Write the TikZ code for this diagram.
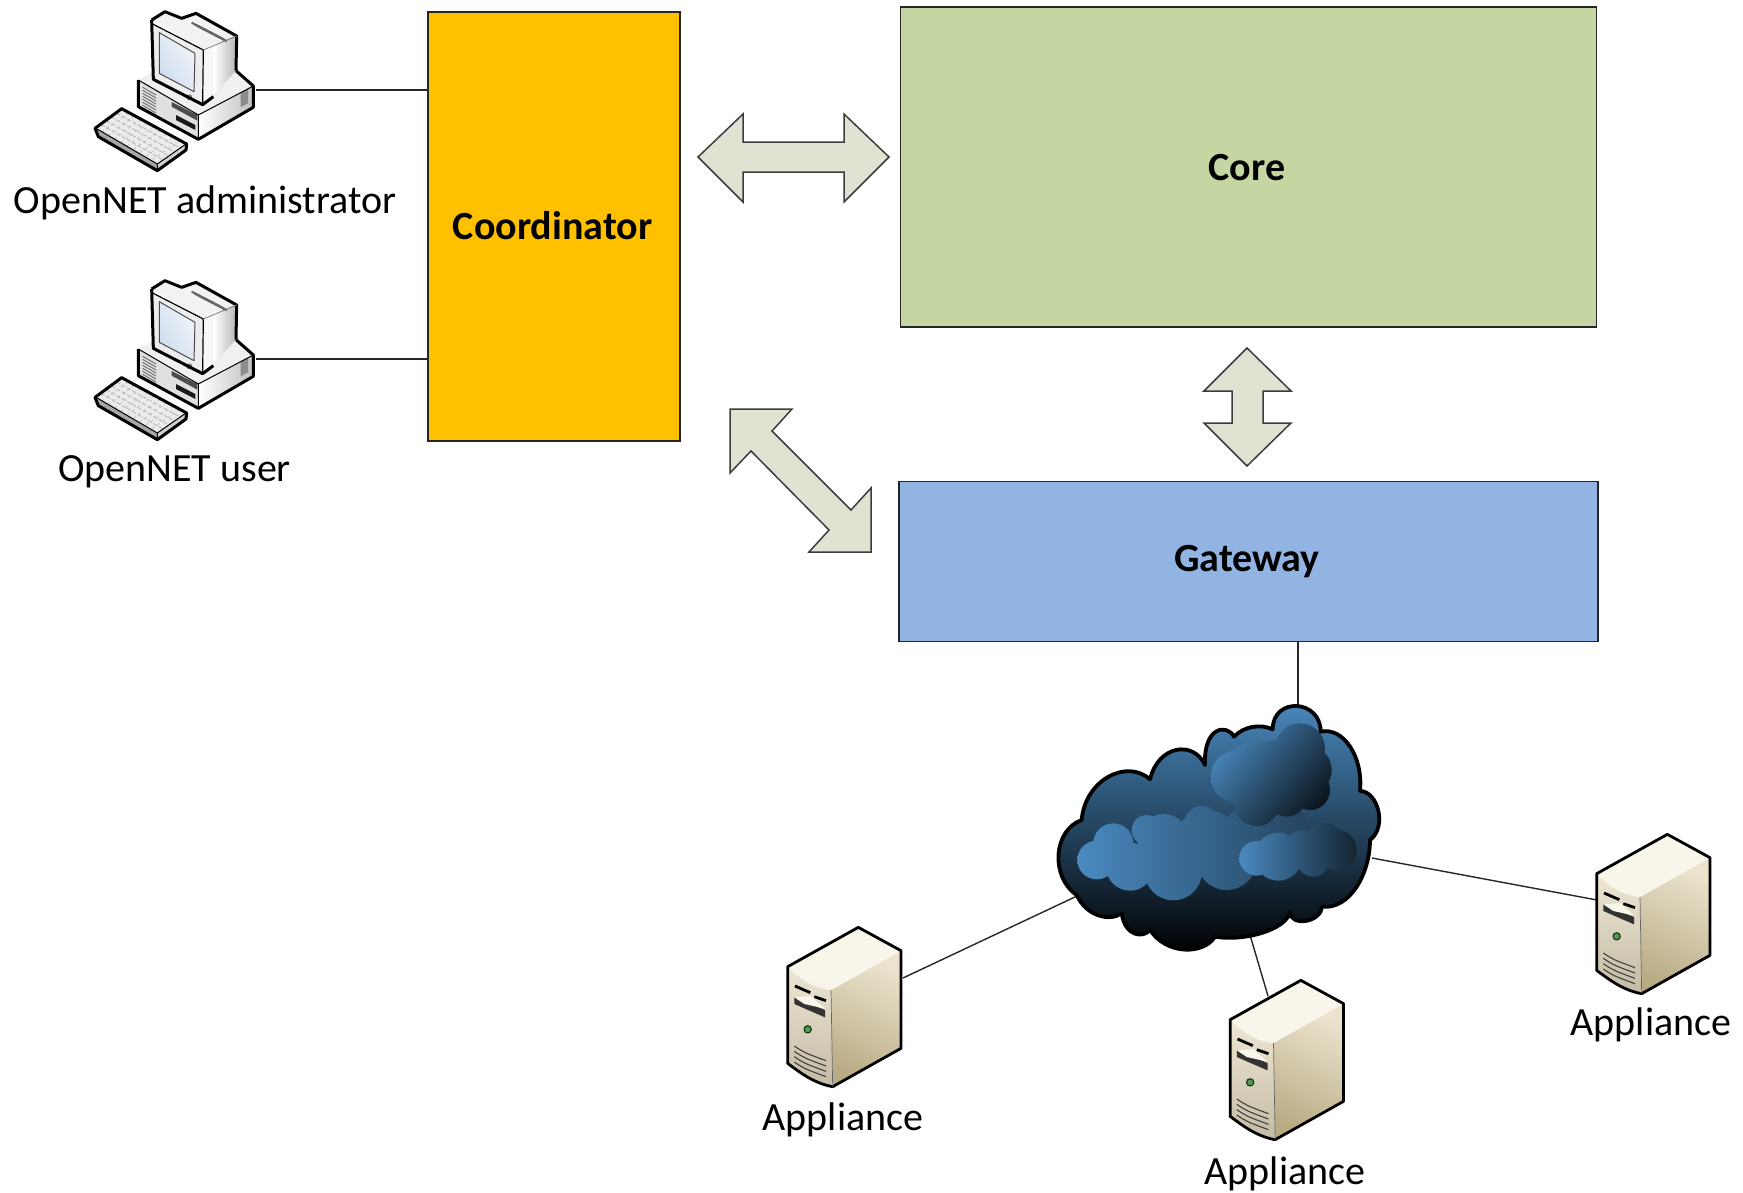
\documentclass[tikz,border=0pt]{standalone}
\usepackage{fontspec}
\setmainfont{Carlito}
\usetikzlibrary{calc}
\definecolor{coordc}{HTML}{FFC000}
\definecolor{corec}{HTML}{C5D6A2}
\definecolor{gatec}{HTML}{92B4E2}
\definecolor{arrc}{HTML}{DFE3D1}
\definecolor{arre}{HTML}{3C3C3C}
\definecolor{cb}{HTML}{4A8AC0}
\definecolor{scrA}{HTML}{CFDCEE}
\definecolor{scrB}{HTML}{F2F5FA}
\tikzset{
 box/.style={draw=black!85,line width=1.4pt},
 boxlab/.style={font=\fontsize{40}{44}\selectfont\bfseries,text=black},
 lab/.style={font=\fontsize{40}{44}\selectfont,text=black},
 wire/.style={draw=black!85,line width=1.4pt},
 dblarrow/.style={fill=arrc,draw=arre,line width=1.5pt,line join=miter},
 icon/.style={x=0.33333pt,y=-0.33333pt},
 computericon/.pic={
  \begin{scope}[icon,line join=round]
   % keyboard
   \fill[black!8] (155,328)--(348,432)--(262,492)--(78,385)--cycle;
   \fill[black!35] (78,385)--(262,492)--(262,510)--(85,408)--cycle;
   \fill[black!18] (262,492)--(348,432)--(348,450)--(262,510)--cycle;
   \foreach \t in {0.2,0.4,0.6,0.8}{
     \draw[black!30,line width=0.8pt,dash pattern=on 4pt off 2pt]
       ($(155,328)!\t!(78,385)$)--($(348,432)!\t!(262,492)$);}
   \foreach \t in {0.1,0.2,...,0.9}{
     \draw[black!25,line width=0.8pt,dash pattern=on 3pt off 3pt]
       ($(155,328)!\t!(348,432)$)--($(78,385)!\t!(262,492)$);}
   \draw[black,line width=3pt] (155,326)--(350,432)--(348,450)--(262,512)--(85,410)--(75,385)--cycle;
   \draw[black,line width=1pt] (78,385)--(262,492)--(348,432) (262,492)--(262,510);
   % base
   \fill[black!12] (205,240)--(385,345)--(385,418)--(205,320)--cycle;
   \shade[left color=white,right color=black!25] (385,345)--(550,258)--(550,322)--(385,418)--cycle;
   \fill[black!6] (205,240)--(248,215)--(500,215)--(550,258)--(385,345)--cycle;
   \foreach \t in {0,...,7}{
     \draw[black!55,line width=1pt] ($(218,262)+(0,\t*9)$)--($(258,285)+(0,\t*9)$);}
   \fill[black!45] (512,278)--(534,266)--(534,310)--(512,322)--cycle;
   \fill[black!70] (305,320)--(382,362)--(382,345)--(305,306)--cycle;
   \fill[black!90] (318,360)--(376,390)--(376,375)--(318,345)--cycle;
   \draw[black,line width=3pt] (205,240)--(205,320)--(385,418)--(550,322)--(550,258)--(498,212);
   \draw[black,line width=1pt] (205,240)--(385,345)--(385,418) (385,345)--(550,258);
   % monitor
   \fill[black!5] (245,60)--(285,35)--(335,55)--(378,40)--(500,108)--(400,152)--cycle;
   \fill[black!7] (248,72)--(400,150)--(398,312)--(250,238)--cycle;
   \fill[black!3] (400,150)--(430,130)--(430,285)--(398,312)--cycle;
   \shade[left color=white,right color=black!28] (430,130)--(498,108)--(498,212)--(430,285)--cycle;
   \shade[left color=scrA,right color=scrB,shading angle=120] (268,98)--(375,160)--(372,275)--(268,220)--cycle;
   \draw[black!70,line width=1pt] (268,98)--(375,160)--(372,275)--(268,220)--cycle;
   \foreach \t in {0,...,3}{
     \draw[black!60,line width=2pt] ($(365,68)+(\t*7,-\t*2)+(0,\t*6)$)--($(450,112)+(\t*7,-\t*2)+(0,\t*6)$);}
   \draw[black!60,line width=1pt,fill=black!10] (358,292) circle (7);
   \draw[black,line width=3pt] (245,60)--(285,35)--(335,55)--(378,40)--(500,108)--(498,212);
   \draw[black,line width=3pt] (245,60)--(250,238)--(398,314)--(430,290);
   \draw[black,line width=1.2pt] (248,72)--(400,150)--(398,312);
   \draw[black!50,line width=0.8pt] (400,150)--(500,108);
  \end{scope}
 },
 servericon/.pic={
  \begin{scope}[icon,line join=round]
   \definecolor{sa}{HTML}{F8F5EA}\definecolor{sb}{HTML}{E6DCC0}\definecolor{sc}{HTML}{B9AC85}\definecolor{sd}{HTML}{EBE3CE}
   \shade[bottom color=sc,top color=sd,shading angle=-25] (180,240)--(390,122)--(390,415)--(185,530)--cycle;
   \shade[top color=sb!70!white,bottom color=sb!85!black] (50,170) .. controls (90,210) and (130,235) .. (180,240)--(185,530) .. controls (130,520) and (90,490) .. (50,460)--cycle;
   \fill[sa] (50,170) .. controls (90,210) and (130,235) .. (180,240)--(390,122)--(262,52)--cycle;
   \draw[black,line width=2.8pt] (72,228)--(118,248) (130,260)--(165,272);
   \fill[black!80] (70,262)--(162,300)--(162,322)--(70,282)--cycle;
   \fill[sa] (70,262)--(120,258)--(162,296)--(100,282)--cycle;
   \draw[black!80!green,line width=1pt,fill=green!35!black!65] (110,358) circle (11);
   \foreach \t in {0,1,2,3}{
    \draw[black!75,line width=1.1pt] ($(70,408)+(0,\t*16)$) .. controls ($(100,428)+(0,\t*16)$) .. ($(165,452)+(0,\t*16)$);}
   \draw[black,line width=2.8pt] (50,170)--(262,52)--(390,122)--(390,415)--(185,530) .. controls (130,520) and (90,490) .. (50,460)--cycle;
   \draw[black!60,line width=0.7pt] (180,240)--(185,530);
  \end{scope}
 }
}
\begin{document}
\begin{tikzpicture}[x=1pt,y=-1pt]
\useasboundingbox (0,0) rectangle (1743,1192);
% named anchor points
\coordinate (pcA) at (256,90);
\coordinate (pcB) at (256,359);
\coordinate (coordA) at (428,90);
\coordinate (coordB) at (428,359);
\coordinate (gateOut) at (1298,641);
\coordinate (cloudTop) at (1298,706);
\coordinate (cloudA) at (1077,896);
\coordinate (srvA) at (903,978);
\coordinate (cloudB) at (1250,935);
\coordinate (srvB) at (1268,996);
\coordinate (cloudC) at (1372,858);
\coordinate (srvC) at (1597,900);
% connectors
\draw[wire] (pcA)--(coordA);
\draw[wire] (pcB)--(coordB);
\draw[wire] (gateOut)--(cloudTop);
\draw[wire] (cloudA)--(srvA);
\draw[wire] (cloudB)--(srvB);
\draw[wire] (cloudC)--(srvC);
% boxes
\node[box,fill=coordc,minimum width=252pt,minimum height=429pt,inner sep=0pt] (coordinator) at (554,226.5) {};
\node[boxlab] at (552.5,226) {Coordinator};
\node[box,fill=corec,minimum width=696pt,minimum height=320pt,inner sep=0pt] (core) at (1248.5,167) {};
\node[boxlab] at (1247,168) {Core};
\node[box,fill=gatec,minimum width=699pt,minimum height=160pt,inner sep=0pt] (gateway) at (1248.5,561.5) {};
\node[boxlab] at (1247,562) {Gateway};
% double arrows
\draw[dblarrow] (698,157)--(743,114)--(743,142)--(844,142)--(844,114)--(889,157)--(844,202)--(844,172)--(743,172)--(743,202)--cycle;
\draw[dblarrow] (1247,348)--(1291,391)--(1263,391)--(1263,423)--(1291,423)--(1247,466)--(1204,423)--(1232,423)--(1232,391)--(1204,391)--cycle;
\draw[dblarrow] (730,409)--(792,409)--(772,431)--(851,510)--(871,488)--(871,552)--(809,552)--(829,530)--(751,451)--(730,473)--cycle;
% computers
\pic at (70,0) {computericon};
\pic at (70,269) {computericon};
\node[lab] at (205,203) {OpenNET administrator};
\node[lab] at (174.5,472) {OpenNET user};
% cloud
\begin{scope}[shift={(1030,680)},x=0.33333pt,y=-0.33333pt]
 \def\cloudpath{(728,148) .. controls (728,50) and (872,57) .. (872,155)
  .. controls (940,140) and (1000,230) .. (990,333)
  .. controls (1043,333) and (1073,440) .. (1020,480)
  .. controls (1020,580) and (960,690) .. (875,680)
  .. controls (875,727) and (780,742) .. (780,695)
  .. controls (770,750) and (640,785) .. (555,770)
  .. controls (520,825) and (410,825) .. (360,750)
  .. controls (340,775) and (285,770) .. (275,700)
  .. controls (240,725) and (170,710) .. (140,645)
  .. controls (60,590) and (70,450) .. (155,420)
  .. controls (165,300) and (290,235) .. (360,298)
  .. controls (385,195) and (490,180) .. (525,255)
  .. controls (520,140) and (590,130) .. (612,170)
  .. controls (640,140) and (690,130) .. (728,148) -- cycle}
 \shade[top color=cb,middle color=cb!55!black,bottom color=black,shading angle=0] \cloudpath;
 \begin{scope}
  \clip (200,540) circle (58) (250,490) circle (60) (300,560) circle (72) (400,480) circle (78)
        (430,575) circle (86) (515,430) circle (52) (530,490) circle (100) (590,540) circle (90)
        (640,450) circle (62) (720,440) circle (50) (790,425) circle (40) (350,450) circle (45)
        (170,540) circle (28);
  \shade[left color=cb,middle color=cb!80!black,right color=cb!50!black] (140,370) rectangle (830,670);
 \end{scope}
 \begin{scope}
  \clip (620,290) circle (78) (680,260) circle (80) (810,205) circle (75) (830,270) circle (75)
        (680,370) circle (68) (770,350) circle (60) (840,330) circle (60) (740,280) circle (100);
  \shade[left color=cb,right color=black!85!cb,shading angle=50] (530,120) rectangle (910,445);
 \end{scope}
 \begin{scope}
  \clip (680,535) circle (52) (745,530) circle (72) (820,510) circle (60) (885,490) circle (60)
        (920,510) circle (60) (850,540) circle (50);
  \shade[left color=cb,middle color=cb!75!black,right color=cb!25!black] (625,420) rectangle (985,612);
 \end{scope}
 \draw[black,line width=3.8pt,line join=round] \cloudpath;
\end{scope}
% servers
\pic at (771,910) {servericon};
\pic at (1213.5,963) {servericon};
\pic at (1580,817) {servericon};
\node[lab] at (843,1120) {Appliance};
\node[lab] at (1285,1174) {Appliance};
\node[lab] at (1651,1025) {Appliance};
\end{tikzpicture}
\end{document}
